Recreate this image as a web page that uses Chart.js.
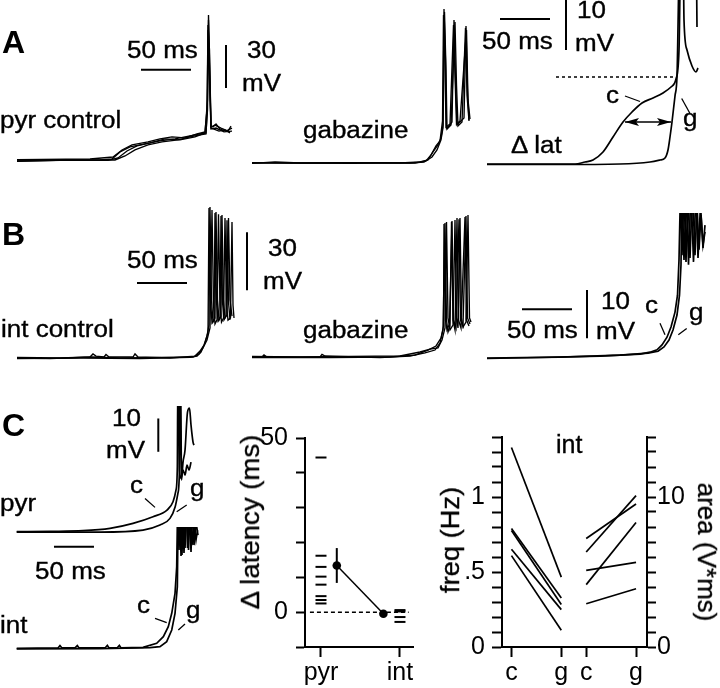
<!DOCTYPE html>
<html><head><meta charset="utf-8">
<script src="https://cdn.jsdelivr.net/npm/chart.js@4"></script>
<style>
html,body{margin:0;padding:0;background:#fff;}
#fig{position:relative;width:720px;height:688px;overflow:hidden;font-family:'Liberation Sans',Arial,Helvetica,sans-serif;color:#000;}
#fig canvas{position:absolute;}
.t{position:absolute;font-size:23px;line-height:1;white-space:nowrap;transform:scaleX(1.13);transform-origin:0 0;-webkit-text-stroke:0.35px #000;}
.u{position:absolute;font-size:25px;line-height:1;white-space:nowrap;-webkit-text-stroke:0.35px #000;}
.p{position:absolute;font-size:32px;font-weight:bold;line-height:1;}
.r{position:absolute;line-height:1;white-space:nowrap;-webkit-text-stroke:0.35px #000;}
</style></head>
<body><div id="fig"></div>
<script>
// ===== DATA (time in ms, membrane potential in mV) =====
// A: pyramidal cell, control sweeps
const aCtl1 = [[0,-66],[43,-65.3],[83,-65],[95,-64.3],[103,-59.4],[113,-55.9],[128,-53.8],[143,-51.7],[158,-50.3],[173,-48.2],[183,-46.8],[189,-46.1],[190.5,-30.1],[191.5,36.2],[192.5,4.8],[194,-41.3],[196,-42],[199,-39.9],[203,-43.4],[209,-44.8],[215,-42.7]];
const aCtl2 = [[0,-65.7],[53,-65],[91,-65.3],[101,-63.6],[110,-58.7],[120,-55.2],[133,-53.1],[148,-50.3],[163,-51],[178,-48.9],[188,-46.1],[190.5,-23.1],[191.5,32.7],[192.5,-2.2],[194,-42.7],[197,-43.4],[202,-44.8],[208,-44],[213,-46.1]];
const aCtl3 = [[0,-64.7],[73,-64.3],[96,-62.9],[105,-58],[115,-54.5],[131,-52.4],[143,-50.3],[155,-48.9],[168,-49.6],[180,-46.8],[188,-45.4],[190,-30],[191,29.2],[192.5,11.8],[194,-42],[198,-40.6],[204,-42.7],[211,-44.8],[214,-41.3]];
const aCtl4 = [[0,-65],[98,-65],[108,-62.2],[118,-58],[131,-54.5],[145,-52.4],[161,-51],[173,-48.9],[183,-47.5],[189,-46.8],[190.2,-30],[191,25.7],[192.5,-9.2],[194,-43.4],[199,-42.7],[207,-45.4],[215,-44.8]];
// A: pyramidal cell, gabazine sweeps
const aGbz1 = [[0,-65.3],[23,-64.3],[48,-65],[98,-65.3],[148,-65],[168,-64.3],[176,-62.9],[181,-57.3],[186,-52.4],[189,-47.5],[191,-38.5],[192,42.5],[193.5,6.9],[194.5,-40.6],[197,-39.2],[200,-36.4],[202,34.8],[203.5,-7.1],[205,-38.5],[208,-36.4],[212,-33.6],[214,30.6],[215.5,-14],[217,-35]];
const aGbz2 = [[0,-64.7],[38,-65],[88,-64.7],[158,-65],[172,-64.3],[180,-60.8],[185,-55.9],[189,-48.9],[191,-40.6],[192.5,40.4],[194,-0.1],[195,-41.3],[199,-38.5],[203,33.4],[204.5,-10.6],[206,-39.2],[210,-36.4],[213.5,29.2],[215,-17.5],[217,-35.7]];
const aGbz3 = [[0,-65],[68,-65],[128,-64.7],[163,-65],[174,-63.6],[179,-59.4],[184,-53.1],[188,-49.6],[190.5,-35.7],[191.5,38.3],[193,3.4],[194,-39.9],[198,-37.8],[201.5,31.3],[203,-3.6],[204.5,-37.8],[208,-35.7],[214.5,27.8],[216,-21],[218,-34.3]];
// A: expanded averages, control (c) and gabazine (g)
const aAvgC = [[0,-65],[53,-65],[88,-65],[98,-64.6],[106,-64.2],[116,-62.6],[126,-59.6],[136,-56.6],[145,-54.6],[155,-52.8],[166,-51.8],[176,-50.8],[184,-49.6],[189,-48],[192,-42.2],[194,-20],[196,-20],[197,-36.2],[200,-42.2],[205,-45.4],[209,-46.6],[211,-45.8]];
const aAvgG = [[0,-65.1],[73,-65.1],[133,-65],[163,-64.6],[173,-64.2],[178,-63.8],[181,-62.2],[183,-59.6],[185,-56.6],[188,-51.4],[190,-47.4],[193,-20],[209,-20],[210,-37.6]];
const aThreshold = [[69,-47.6],[189,-47.6]];
const aLatArrow = [[138,-56.6],[184,-56.6]];
const aLeadC = [[138,-51.4],[153,-52.5]];
const aLeadG = [[194.7,-51.9],[203,-54.9]];
// B: interneuron, control sweeps
const bCtl1 = [[0,-65],[33,-65.3],[73,-64.5],[76,-62.9],[79,-64],[87,-64.5],[89,-63.2],[92,-64.5],[116,-64.5],[118,-62.9],[121,-64.5],[153,-65],[178,-64],[183,-61.4],[187,-58.3],[190,-53.6],[192,-47.9],[193,13.1],[194.5,-35],[196,-46.4],[198,-44.3],[199,10.5],[200.5,-35],[202,-45.4],[204,-43.3],[205,8.9],[206.5,-35],[208,-44.3],[210,-42.7],[211.5,7.4],[213,-35],[215,-43.3]];
const bCtl2 = [[0,-64.7],[43,-65],[75,-64.5],[103,-65],[143,-64.7],[176,-64.5],[182,-62.9],[186,-59.8],[190,-55.7],[193,-49.5],[195,11.5],[196.5,-37.6],[198,-47.4],[200,-45.3],[201.5,9.4],[203,-37.6],[204.5,-46.4],[206.5,-44.3],[208,7.4],[209.5,-37.6],[211,-45.4],[213.5,-44.3],[215,5.3],[216,-37.6],[217,-44.3]];
const bCtl3 = [[0,-65.3],[63,-65],[123,-65.3],[173,-64.7],[180,-64],[184,-61.9],[188,-57.2],[191,-51.6],[192,12.6],[193.5,-35],[195,-46.9],[197,-45.3],[198,10],[199.5,-36],[201,-45.9],[203,-44.3],[204,8.4],[205.5,-36],[207,-45.3],[209,-43.3],[210,6.3],[211.5,-36],[213,-45.3]];
// B: interneuron, gabazine sweeps
const bGbz1 = [[0,-65],[10,-65],[12,-63.9],[15,-65],[68,-65],[70,-63.6],[73,-64.5],[128,-65.3],[158,-64.5],[173,-62.9],[183,-61.4],[188,-57.8],[191,-51],[193,4.3],[194.5,-45.9],[196,-52.1],[198,-49],[199.5,4.8],[201,-45.9],[203,-51],[205,6.9],[206.5,-45.9],[209,-50],[213,7.4],[214.5,-45.9],[217,-49]];
const bGbz2 = [[0,-64.7],[48,-65],[98,-64.7],[148,-64.5],[168,-62.4],[178,-60.9],[186,-60.3],[190,-56.2],[193,-50],[194.5,4.8],[196,-44.8],[198,-51],[201,-48.5],[203,5.8],[204.5,-44.8],[206,-50],[208,6.9],[209.5,-44.8],[211,-49.5],[214,-46.9],[216,8.4],[217.5,-44.8],[219,-46.9]];
const bGbz3 = [[0,-65.3],[78,-65.3],[138,-65],[163,-64],[176,-61.4],[184,-59.3],[189,-55.2],[191.5,-49],[192,3.8],[193.5,-45.9],[195,-51],[197.5,-47.9],[200,5.3],[201.5,-45.9],[204,-50],[207,6.3],[208.5,-45.9],[211,-49],[214,7.9],[215.5,-44.8],[218,-47.9]];
// B: expanded averages
const bAvgC = [[0,-65.1],[53,-64.9],[113,-64.6],[153,-64.2],[163,-63.8],[170,-63.3],[175,-62.3],[180,-60.7],[184,-58.6],[188,-55.5],[190.5,-52],[192,-44.7],[193.5,-30],[195,-43.7],[197,-30],[199,-45.1],[201,-30],[203,-44.3],[205.5,-30],[208,-43.7],[210,-33.3],[212,-42.6],[214,-35.4],[216,-41.6],[218,-38.9]];
const bAvgG = [[0,-65],[73,-64.8],[133,-64.4],[161,-64],[171,-63.6],[177,-62.7],[182,-61.3],[186,-59.2],[190,-56.1],[192.5,-52],[194,-45.7],[195,-30],[197,-44.7],[199.5,-30],[201.5,-45.7],[204,-30],[206.5,-45.1],[209,-30],[211,-44.3],[213.5,-33.3],[216,-42.2],[218,-37.5]];
const bLeadC = [[173,-57.8],[178,-60.2]];
const bLeadG = [[191.3,-60.2],[199.7,-58.9]];
// C: pyr and int averages
const cPyrC = [[0,-65],[41.6,-64.9],[82.9,-64.7],[116.6,-64],[145.4,-62.5],[170.4,-60.5],[187.9,-58.5],[195.4,-56],[199.1,-52.5],[200.8,-45.5],[201.4,-20],[202.3,-20],[203.5,-46.5],[205.4,-48.9],[207.9,-46.5],[210.4,-48],[212.9,-45],[215.4,-46.5],[217.9,-44.1]];
const cPyrG = [[0,-65.1],[104.1,-65.1],[157.9,-64.5],[179.1,-63],[191.6,-61],[198.1,-57.5],[201.5,-53.5],[203.5,-45.5],[204.1,-20],[205,-20],[206,-49.5],[207.9,-44.1],[210.4,-40.5],[213.5,-29.1],[216,-27.9],[217.9,-33],[220.4,-38.1],[221.6,-39]];
const cPyrLeadC = [[160.4,-55],[172.9,-57.7]];
const cPyrLeadG = [[200,-59],[212.5,-57]];
const cIntC = [[0,-65],[51.6,-64.9],[54.1,-64.2],[56.6,-64.9],[72.9,-64.9],[75.8,-64.2],[77.9,-64.9],[110.4,-64.9],[113.3,-64.1],[115.4,-64.9],[125.4,-64.9],[128.3,-64.1],[130.4,-64.9],[157.9,-64.7],[175,-63.5],[183.3,-61.5],[189.5,-58.5],[193.8,-54.5],[197.9,-48.5],[200,-40.5],[201.3,-20],[202.9,-35.5],[204.8,-20],[206.6,-37],[208.5,-20],[210.4,-34.9],[212.9,-20],[214.8,-35.5],[217.3,-20],[219.1,-34],[221.6,-28],[224.1,-32.5],[226,-29.5]];
const cIntG = [[0,-65.2],[104.1,-65.1],[166.6,-64.8],[179.1,-64.5],[187.5,-63],[193.8,-59.5],[197.9,-54.5],[200.8,-46.5],[202,-20],[203.5,-20],[205.4,-37.3],[207.3,-20],[209.1,-36.4],[211.6,-20],[213.5,-34.9],[215.4,-20],[217.9,-36.1],[219.8,-20],[221.6,-34],[224.1,-27.1],[226.6,-31]];
const cIntLeadC = [[172.9,-56],[187.5,-57.3]];
const cIntLeadG = [[202,-59.5],[210.4,-57.7]];
// scale bars [ [t1,V1],[t2,V2] ]
const barA_ms = [[124,-2],[174,-2]];       // 50 ms
const barA_mV = [[209,-14.7],[209,15.3]];  // 30 mV
const barA2_ms = [[13,-36],[63,-36]];      // 50 ms
const barA2_mV = [[79,-42.2],[79,-32.2]];  // 10 mV
const barB_ms = [[120,-26.2],[170,-26.2]]; // 50 ms
const barB_mV = [[230,-30],[230,0]];       // 30 mV
const barB2_ms = [[35,-54.9],[85,-54.9]];  // 50 ms
const barB2_mV = [[100,-60.9],[100,-50.9]];// 10 mV
const barC_ms = [[46.6,-69.5],[96.6,-69.5]]; // 50 ms
const barC_mV = [[177,-41],[177,-31]];     // 10 mV
// C middle: delta latency (ms)
const latGroups = ['pyr','int'];
const latPyr = [44.4, 16.2, 13.0, 10.2, 7.9, 4.6, 3.5, 2.5];
const latInt = [0.6, 0.2, -1.4, -2.8];
const latMean = [13.4, -0.46];
const latErr = [5.0, 0.8];
// C right: interneurons, frequency (Hz) and area (V*ms), control vs gabazine
const condLabels = ['c','g','c','g'];
const freqC = [1.33, 0.79, 0.777, 0.652, 0.609];
const freqG = [0.466, 0.326, 0.283, 0.249, 0.112];
const areaC = [7.23, 6.33, 5.11, 4.16, 2.88];
const areaG = [9.53, 10.09, 5.64, 8.30, 3.88];

// ===== RENDERING =====
Chart.defaults.font.family = "'Liberation Sans', Arial, Helvetica, sans-serif";
Chart.defaults.color = '#000';
const fig = document.getElementById('fig');
const REST = -65;
const K = '#000';

function xy(a){ return a.map(p => ({x:p[0], y:p[1]})); }
function ln(a, w, extra){ return Object.assign({type:'line', data: xy(a), borderColor:K, borderWidth:w, pointRadius:0, fill:false, tension:0}, extra||{}); }
function sm(a, w){ return ln(a, w, {cubicInterpolationMode:'monotone'}); }
function mkCanvas(l,t,w,h){ const c=document.createElement('canvas'); c.width=w; c.height=h; c.style.left=l+'px'; c.style.top=t+'px'; c.style.width=w+'px'; c.style.height=h+'px'; fig.appendChild(c); return c; }
function traceChart(r, cal, datasets){
  const c = mkCanvas(r.l, r.t, r.w, r.h);
  return new Chart(c, {type:'line', data:{datasets},
    options:{responsive:false, animation:false, events:[], devicePixelRatio:1,
      layout:{padding:0, autoPadding:false},
      plugins:{legend:{display:false}, tooltip:{enabled:false}},
      scales:{
        x:{type:'linear', display:false, min:(r.l-cal.x0)/cal.kx, max:(r.l+r.w-cal.x0)/cal.kx},
        y:{type:'linear', display:false, min:REST-(r.t+r.h-cal.y0)/cal.ky, max:REST+(cal.y0-r.t)/cal.ky}
      }}});
}
function txt(s,l,t,cls){ const d=document.createElement('div'); d.className=cls; d.textContent=s; d.style.left=l+'px'; d.style.top=t+'px'; fig.appendChild(d); }
function rtxt(s,cx,cy,deg,sx,size){ const d=document.createElement('div'); d.className='r'; d.textContent=s; d.style.left=cx+'px'; d.style.top=cy+'px'; d.style.fontSize=size+'px'; d.style.transform='translate(-50%,-50%) rotate('+deg+'deg) scaleX('+sx+')'; fig.appendChild(d); }

// arrowhead image
const head = document.createElement('canvas'); head.width=14; head.height=8;
(function(){ const g=head.getContext('2d'); g.fillStyle=K; g.beginPath(); g.moveTo(14,4); g.lineTo(0,0); g.lineTo(3,4); g.lineTo(0,8); g.closePath(); g.fill(); })();

const TW = 1.35, AW = 1.7, SB = 2;
// Panel A
traceChart({l:0,t:0,w:240,h:180}, {x0:17,y0:160,kx:1,ky:43/30},
  [ln(aCtl1,TW), ln(aCtl2,TW), ln(aCtl3,TW), ln(aCtl4,TW), ln(barA_ms,SB), ln(barA_mV,SB)]);
traceChart({l:240,t:0,w:240,h:180}, {x0:252,y0:163,kx:1,ky:43/30},
  [ln(aGbz1,TW), ln(aGbz2,TW), ln(aGbz3,TW)]);
traceChart({l:480,t:0,w:240,h:180}, {x0:487,y0:164,kx:1,ky:5},
  [sm(aAvgC,AW), sm(aAvgG,AW), ln(aThreshold,1.3,{borderDash:[3,3]}),
   ln(aLatArrow,1.5),
   {type:'line', showLine:false, data:[{x:aLatArrow[0][0]+7,y:aLatArrow[0][1]},{x:aLatArrow[1][0]-7,y:aLatArrow[1][1]}], pointStyle:head, pointRadius:7, pointRotation:[180,0], borderColor:K, backgroundColor:K},
   ln(aLeadC,1.3), ln(aLeadG,1.3), ln(barA2_ms,SB), ln(barA2_mV,SB)]);
// Panel B
traceChart({l:0,t:190,w:260,h:190}, {x0:17,y0:358,kx:1,ky:58/30},
  [ln(bCtl1,TW), ln(bCtl2,TW), ln(bCtl3,TW), ln(barB_ms,SB), ln(barB_mV,SB)]);
traceChart({l:240,t:190,w:240,h:190}, {x0:252,y0:357,kx:1,ky:58/30},
  [ln(bGbz1,TW), ln(bGbz2,TW), ln(bGbz3,TW)]);
traceChart({l:480,t:213,w:240,h:167}, {x0:487,y0:358,kx:1,ky:4.83},
  [ln(bAvgC,AW), ln(bAvgG,AW), ln(bLeadC,1.3), ln(bLeadG,1.3), ln(barB2_ms,SB), ln(barB2_mV,SB)]);
// Panel C traces
traceChart({l:0,t:406,w:220,h:146}, {x0:16.7,y0:531.7,kx:0.8,ky:3.33},
  [sm(cPyrC,AW), sm(cPyrG,AW), ln(cPyrLeadC,1.3), ln(cPyrLeadG,1.3), ln(barC_ms,SB), ln(barC_mV,SB)]);
traceChart({l:0,t:527,w:220,h:135}, {x0:16.7,y0:648.3,kx:0.8,ky:3.33},
  [ln(cIntC,AW), ln(cIntG,AW), ln(cIntLeadC,1.3), ln(cIntLeadG,1.3)]);

// Panel C middle: delta latency
const axisGrid = (tl) => ({drawOnChartArea:false, drawTicks:true, tickLength:tl, tickWidth:2, tickColor:K});
const axisBorder = {display:true, color:K, width:2};
new Chart(mkCanvas(220,415,200,273), {type:'scatter',
  data:{datasets:[
    ln([[-0.14,0],[1.11,0]],1.5,{borderDash:[4,3]}),
    {data: latPyr.map(v=>({x:0,y:v})), pointStyle:'line', pointRadius:5.5, pointBorderWidth:2, borderColor:K, backgroundColor:K},
    {data: latInt.map(v=>({x:1,y:v})), pointStyle:'line', pointRadius:5.5, pointBorderWidth:2, borderColor:K, backgroundColor:K},
    ln([[0.2,latMean[0]-latErr[0]],[0.2,latMean[0]+latErr[0]]],2),
    ln([[0.79,latMean[1]-latErr[1]],[0.79,latMean[1]+latErr[1]]],2),
    ln([[0.2,latMean[0]],[0.79,latMean[1]]],1.5,{pointRadius:4.3, pointBackgroundColor:K, pointBorderWidth:0})
  ]},
  options:{responsive:false, animation:false, events:[], devicePixelRatio:1,
    layout:{padding:{left:0,top:15,right:7,bottom:0}, autoPadding:false},
    plugins:{legend:{display:false}, tooltip:{enabled:false}},
    scales:{
      x:{type:'linear', min:-0.2025, max:1.165,
         afterBuildTicks:a=>{a.ticks=[{value:0},{value:1}];}, afterFit:a=>{a.height=41;},
         ticks:{callback:(v,i)=>latGroups[i], padding:1, maxRotation:0, autoSkip:false, font:{size:25}},
         grid:axisGrid(10), border:axisBorder},
      y:{type:'linear', min:-10, max:50, afterFit:a=>{a.width=85;},
         ticks:{stepSize:10, autoSkip:false, padding:8, callback:v=>(v===50||v===0)?String(v):'', font:{size:25}},
         grid:axisGrid(9), border:axisBorder}
    }}});

// Panel C right: freq / area
const freqSets = [];
for (let i=0;i<freqC.length;i++) freqSets.push(ln([[0,freqC[i]],[1,freqG[i]]],1.7,{yAxisID:'y'}));
for (let i=0;i<areaC.length;i++) freqSets.push(ln([[1.5,areaC[i]],[2.5,areaG[i]]],1.7,{yAxisID:'y2'}));
const near = (a,b)=>Math.abs(a-b)<1e-6;
new Chart(mkCanvas(420,415,300,273), {type:'scatter',
  data:{datasets:freqSets},
  options:{responsive:false, animation:false, events:[], devicePixelRatio:1,
    layout:{padding:{left:0,top:14,right:0,bottom:0}, autoPadding:false},
    plugins:{legend:{display:false}, tooltip:{enabled:false}},
    scales:{
      x:{type:'linear', min:-0.19, max:2.72,
         afterBuildTicks:a=>{a.ticks=[0,1,1.5,2.5].map(v=>({value:v}));}, afterFit:a=>{a.height=41;},
         ticks:{callback:(v,i)=>condLabels[i], padding:1, maxRotation:0, autoSkip:false, font:{size:25}},
         grid:axisGrid(10), border:axisBorder},
      y:{type:'linear', position:'left', min:0, max:1.4, afterFit:a=>{a.width=82;},
         ticks:{stepSize:0.1, autoSkip:false, padding:7, font:{size:25},
           callback:v=>near(v,1)?'1':near(v,0.5)?'.5':near(v,0)?'0':''},
         grid:axisGrid(10), border:axisBorder},
      y2:{type:'linear', position:'right', min:0, max:14, afterFit:a=>{a.width=73;},
         ticks:{stepSize:1, autoSkip:false, padding:1, font:{size:25},
           callback:v=>(near(v,0)||near(v,10))?String(Math.round(v)):''},
         grid:axisGrid(9), border:axisBorder}
    }}});

// ===== TEXT =====
[
 ['A',2,26,'p'], ['50 ms',127,39,'t'], ['30',247,39,'t'], ['mV',242,72,'t'], ['pyr control',0,108.7,'t'], ['gabazine',303,118.7,'t'],
 ['50 ms',482,30,'t'], ['10',577,-1,'t'], ['mV',575,32,'t'], ['c',606,84,'t'], ['g',683,107.4,'t'], ['\u0394 lat',511,133.7,'t'],
 ['B',2,217.5,'p'], ['50 ms',127,249,'t'], ['30',268,237,'t'], ['mV',263,270,'t'], ['int control',1,318,'t'], ['gabazine',303,318.7,'t'],
 ['50 ms',507,318.7,'t'], ['10',601,290,'t'], ['mV',596,320,'t'], ['c',645,294,'t'], ['g',689,300.7,'t'],
 ['C',2,409,'p'], ['10',112,407,'t'], ['mV',106,438.7,'t'], ['pyr',0,492.4,'t'], ['c',130,474,'t'], ['g',190,477.4,'t'],
 ['50 ms',35,560,'t'], ['int',0,613.7,'t'], ['c',137,594,'t'], ['g',186,599,'t'],
 ['int',556,432,'u']
].forEach(a=>txt(a[0],a[1],a[2],a[3]));
rtxt('\u0394 latency (ms)',250,522,-90,1.06,26);
rtxt('freq (Hz)',450,540,-90,1.05,26);
rtxt('area (V*ms)',707,552,90,1,26);
</script>
</body></html>
